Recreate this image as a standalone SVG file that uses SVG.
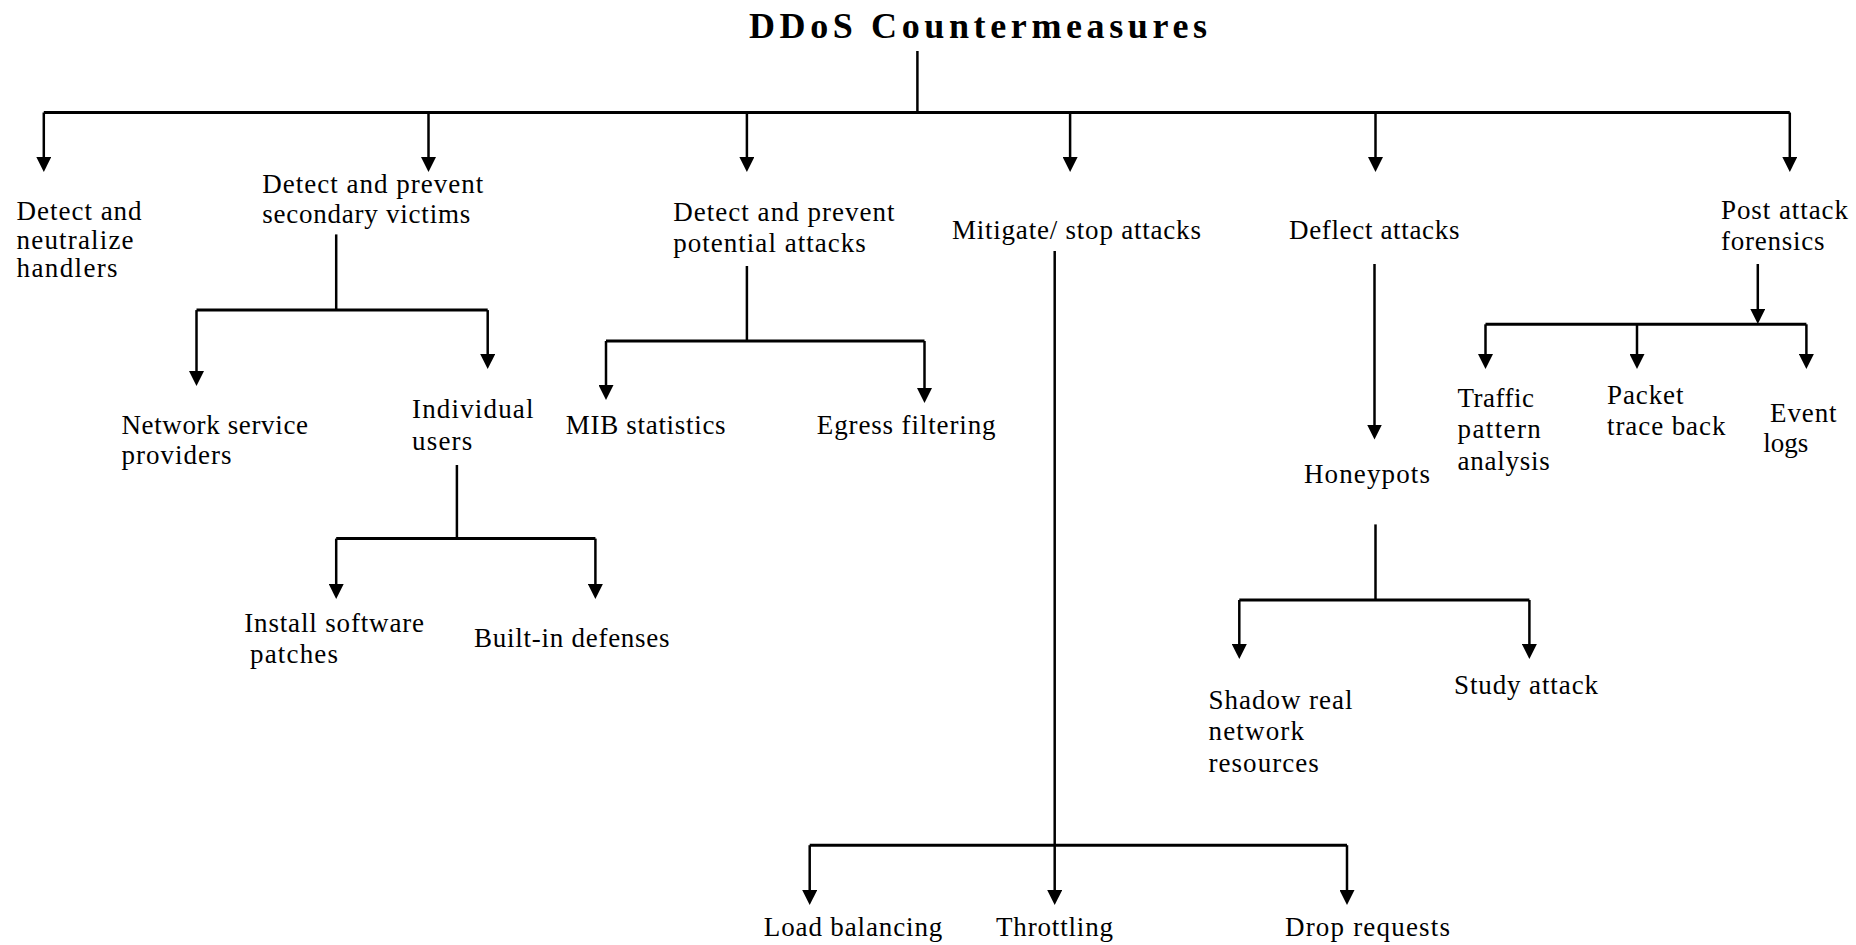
<svg xmlns="http://www.w3.org/2000/svg" width="1856" height="945" viewBox="0 0 1856 945">
  <style>
    .lbl { font-family: "Liberation Serif", "Times New Roman", serif; font-size: 27px; fill: #000; }
    .title { font-family: "Liberation Serif", "Times New Roman", serif; font-size: 36px; font-weight: bold; fill: #000; }
    .bar { stroke: #000; stroke-width: 3; fill: none; }
    .stem { stroke: #000; stroke-width: 2.5; fill: none; }
    .arrow { stroke: #000; stroke-width: 2.5; fill: none; marker-end: url(#head); }
  </style>
  <defs>
    <marker id="head" markerUnits="userSpaceOnUse" markerWidth="15" markerHeight="15" viewBox="0 0 15 15" refX="5" refY="7.5" orient="auto">
      <path d="M0,0 L15,7.5 L0,15 z" fill="#000"/>
    </marker>
  </defs>
  <rect width="1856" height="945" fill="#fff"/>

  <g id="connectors">
    <!-- root -->
    <path class="stem" d="M917.4,51 V112.5"/>
    <path class="bar" d="M43.8,112.5 H1789.8"/>
    <path class="arrow" d="M43.8,112.5 V162"/>
    <path class="arrow" d="M428.5,112.5 V162"/>
    <path class="arrow" d="M746.9,112.5 V162"/>
    <path class="arrow" d="M1070.1,112.5 V162"/>
    <path class="arrow" d="M1375.5,112.5 V162"/>
    <path class="arrow" d="M1789.8,112.5 V162"/>
    <!-- secondary victims -->
    <path class="stem" d="M336.2,234.4 V310.1"/>
    <path class="bar" d="M196.5,310.1 H487.7"/>
    <path class="arrow" d="M196.5,310.1 V376"/>
    <path class="arrow" d="M487.7,310.1 V359"/>
    <!-- individual users -->
    <path class="stem" d="M456.9,465 V538.6"/>
    <path class="bar" d="M336.2,538.6 H595.4"/>
    <path class="arrow" d="M336.2,538.6 V589"/>
    <path class="arrow" d="M595.4,538.6 V589"/>
    <!-- potential attacks -->
    <path class="stem" d="M746.9,266 V341"/>
    <path class="bar" d="M606,341 H924.5"/>
    <path class="arrow" d="M606,341 V390"/>
    <path class="arrow" d="M924.5,341 V393"/>
    <!-- mitigate / stop -->
    <path class="stem" d="M1054.7,251 V845.2"/>
    <path class="bar" d="M809.7,845.2 H1347"/>
    <path class="arrow" d="M809.7,845.2 V895"/>
    <path class="arrow" d="M1054.7,845.2 V895"/>
    <path class="arrow" d="M1347,845.2 V895"/>
    <!-- deflect -->
    <path class="arrow" d="M1374.5,264 V429.5"/>
    <!-- honeypots -->
    <path class="stem" d="M1375.5,524.4 V600"/>
    <path class="bar" d="M1239.3,600 H1529.4"/>
    <path class="arrow" d="M1239.3,600 V649"/>
    <path class="arrow" d="M1529.4,600 V649"/>
    <!-- forensics -->
    <path class="arrow" d="M1757.8,264 V314"/>
    <path class="bar" d="M1485.5,324.3 H1806.4"/>
    <path class="arrow" d="M1485.5,324.3 V359"/>
    <path class="arrow" d="M1637,324.3 V359"/>
    <path class="arrow" d="M1806.4,324.3 V359"/>
  </g>

  <g id="root">
    <text class="title" x="749" y="38" textLength="458">DDoS Countermeasures</text>
  </g>

  <g id="handlers">
    <text class="lbl" x="16.6" y="220" textLength="125">Detect and</text>
    <text class="lbl" x="16.6" y="248.5" textLength="117">neutralize</text>
    <text class="lbl" x="16.6" y="277.3" textLength="101">handlers</text>
  </g>
  <g id="secondary">
    <text class="lbl" x="262.2" y="192.7" textLength="221">Detect and prevent</text>
    <text class="lbl" x="262.2" y="222.7" textLength="208">secondary victims</text>
  </g>
  <g id="potential">
    <text class="lbl" x="673.2" y="220.7" textLength="221.4">Detect and prevent</text>
    <text class="lbl" x="673.2" y="252.3" textLength="192.6">potential attacks</text>
  </g>
  <g id="mitigate">
    <text class="lbl" x="951.9" y="239" textLength="249">Mitigate/ stop attacks</text>
  </g>
  <g id="deflect">
    <text class="lbl" x="1289" y="239" textLength="170.4">Deflect attacks</text>
  </g>
  <g id="forensics">
    <text class="lbl" x="1721" y="219" textLength="127">Post attack</text>
    <text class="lbl" x="1721" y="250" textLength="103.5">forensics</text>
  </g>
  <g id="nsp">
    <text class="lbl" x="121.4" y="434" textLength="186.6">Network service</text>
    <text class="lbl" x="121.4" y="464" textLength="110">providers</text>
  </g>
  <g id="individual">
    <text class="lbl" x="412" y="418.3" textLength="121.5">Individual</text>
    <text class="lbl" x="412" y="450" textLength="60.3">users</text>
  </g>
  <g id="mib">
    <text class="lbl" x="565.8" y="434" textLength="159.8">MIB statistics</text>
  </g>
  <g id="egress">
    <text class="lbl" x="816.8" y="434" textLength="178.7">Egress filtering</text>
  </g>
  <g id="patches">
    <text class="lbl" x="244.2" y="632.3" textLength="179.9">Install software</text>
    <text class="lbl" x="250" y="663.3" textLength="88">patches</text>
  </g>
  <g id="builtin">
    <text class="lbl" x="474" y="647.3" textLength="195.6">Built-in defenses</text>
  </g>
  <g id="traffic">
    <text class="lbl" x="1457.5" y="406.8" textLength="76.5">Traffic</text>
    <text class="lbl" x="1457.5" y="438.4" textLength="83.3">pattern</text>
    <text class="lbl" x="1457.5" y="470" textLength="92.3">analysis</text>
  </g>
  <g id="traceback">
    <text class="lbl" x="1607" y="403.7" textLength="76.5">Packet</text>
    <text class="lbl" x="1607" y="435.3" textLength="118.4">trace back</text>
  </g>
  <g id="eventlogs">
    <text class="lbl" x="1770" y="422" textLength="66.6">Event</text>
    <text class="lbl" x="1763.2" y="451.8" textLength="45">logs</text>
  </g>
  <g id="honeypots">
    <text class="lbl" x="1304" y="482.6" textLength="126">Honeypots</text>
  </g>
  <g id="shadow">
    <text class="lbl" x="1208.5" y="708.6" textLength="144">Shadow real</text>
    <text class="lbl" x="1208.5" y="740" textLength="95.5">network</text>
    <text class="lbl" x="1208.5" y="772" textLength="110.3">resources</text>
  </g>
  <g id="study">
    <text class="lbl" x="1454" y="693.9" textLength="144">Study attack</text>
  </g>
  <g id="loadbalancing">
    <text class="lbl" x="763.8" y="936" textLength="178.5">Load balancing</text>
  </g>
  <g id="throttling">
    <text class="lbl" x="996" y="936" textLength="117">Throttling</text>
  </g>
  <g id="droprequests">
    <text class="lbl" x="1285" y="936" textLength="165">Drop requests</text>
  </g>
</svg>
